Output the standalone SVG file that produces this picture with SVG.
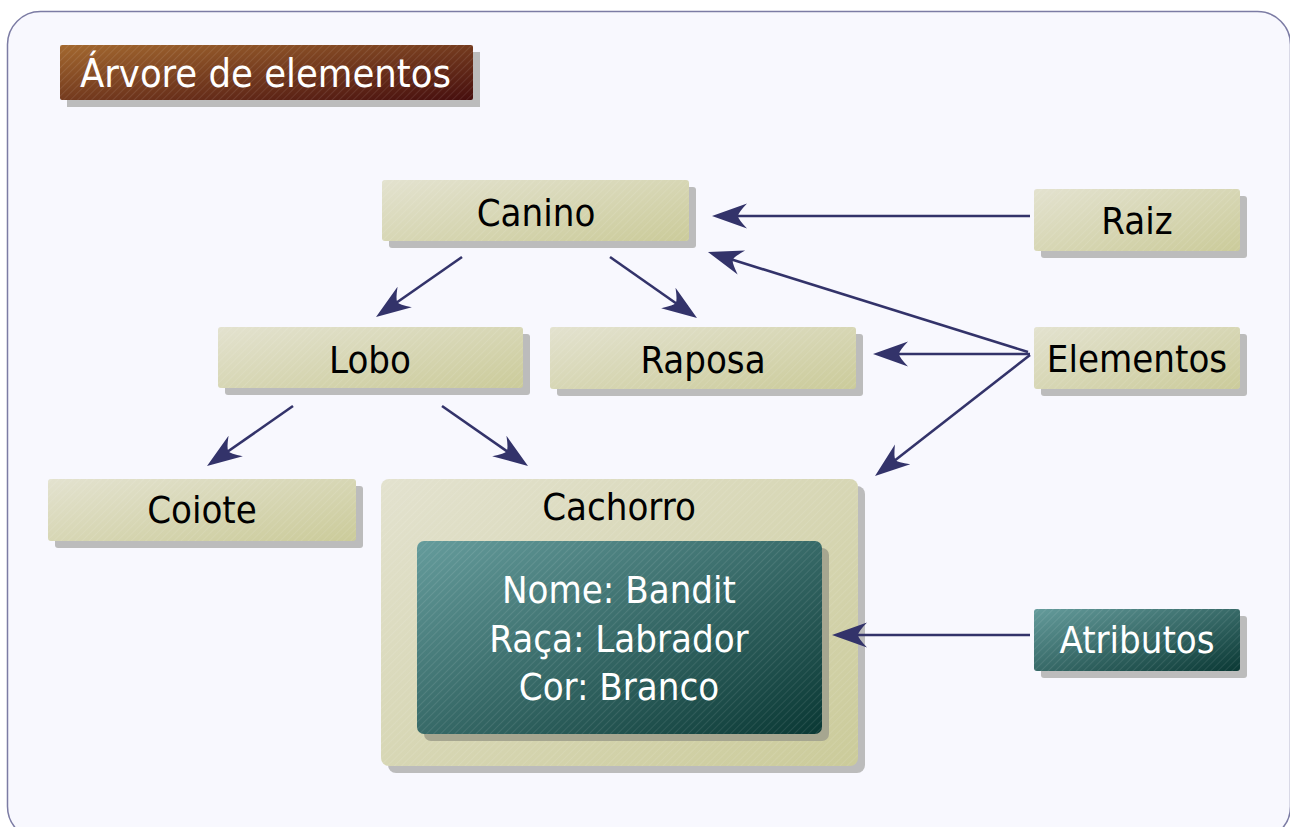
<svg xmlns="http://www.w3.org/2000/svg" width="1290" height="827" viewBox="0 0 1290 827">
<defs>
<linearGradient id="beige" x1="0" y1="0" x2="1" y2="1">
<stop offset="0" stop-color="#e3e2cf"/>
<stop offset="1" stop-color="#cbcb9a"/>
</linearGradient>
<linearGradient id="teal" x1="0" y1="0" x2="1" y2="1">
<stop offset="0" stop-color="#659c9c"/>
<stop offset="1" stop-color="#0a3834"/>
</linearGradient>
<linearGradient id="brown" x1="0" y1="0" x2="1" y2="1">
<stop offset="0" stop-color="#a3682f"/>
<stop offset="1" stop-color="#460e0e"/>
</linearGradient>
<pattern id="hatch" width="5" height="5" patternUnits="userSpaceOnUse" patternTransform="rotate(45)">
<line x1="0" y1="0" x2="0" y2="5" stroke="#ffffff" stroke-width="1" stroke-opacity="0.18"/>
</pattern>
<marker id="ah" viewBox="-30 -15 42 30" refX="0" refY="0" markerWidth="42" markerHeight="30" markerUnits="userSpaceOnUse" orient="auto">
<path d="M10,0 L-25,-12.5 Q-16,-3 -16,0 Q-16,3 -25,12.5 Z" fill="#33336a"/>
</marker>
</defs>
<style>
.shadow{fill:#bcbcbc}
.box{fill:url(#beige)}
.tbox{fill:url(#teal)}
.hatch{fill:url(#hatch)}
.lbl{font-family:"DejaVu Sans Condensed","DejaVu Sans",sans-serif;font-stretch:condensed;font-size:38px;text-anchor:middle;fill:#000}
.wlbl{font-family:"DejaVu Sans Condensed","DejaVu Sans",sans-serif;font-stretch:condensed;font-size:38px;text-anchor:middle;fill:#fff}
.conn{stroke:#33336a;stroke-width:2.6;fill:none;marker-end:url(#ah)}
</style>
<rect x="7.5" y="11.5" width="1283" height="828" rx="33" fill="#f8f8fe" stroke="#7c7ca4" stroke-width="1.5"/>

<g id="title">
<rect class="shadow" x="67" y="52" width="413" height="55"/>
<rect x="60" y="45" width="413" height="55" rx="2" fill="url(#brown)"/>
<rect class="hatch" x="60" y="45" width="413" height="55"/>
<text class="wlbl" x="265.5" y="87" style="font-size:39.5px">Árvore de elementos</text>
</g>

<g id="canino">
<rect class="shadow" x="389" y="187" width="307" height="61" rx="3"/>
<rect class="box" x="382" y="180" width="307" height="61" rx="3"/>
<rect class="hatch" x="382" y="180" width="307" height="61" rx="3"/>
<text class="lbl" x="536" y="226">Canino</text>
</g>

<g id="raiz">
<rect class="shadow" x="1041" y="196" width="206" height="62" rx="3"/>
<rect class="box" x="1034" y="189" width="206" height="62" rx="3"/>
<rect class="hatch" x="1034" y="189" width="206" height="62" rx="3"/>
<text class="lbl" x="1137" y="234">Raiz</text>
</g>

<g id="lobo">
<rect class="shadow" x="225" y="334" width="305" height="61" rx="3"/>
<rect class="box" x="218" y="327" width="305" height="61" rx="3"/>
<rect class="hatch" x="218" y="327" width="305" height="61" rx="3"/>
<text class="lbl" x="370" y="373">Lobo</text>
</g>

<g id="raposa">
<rect class="shadow" x="557" y="334" width="306" height="62" rx="3"/>
<rect class="box" x="550" y="327" width="306" height="62" rx="3"/>
<rect class="hatch" x="550" y="327" width="306" height="62" rx="3"/>
<text class="lbl" x="703" y="373">Raposa</text>
</g>

<g id="elementos">
<rect class="shadow" x="1041" y="334" width="206" height="62" rx="3"/>
<rect class="box" x="1034" y="327" width="206" height="62" rx="3"/>
<rect class="hatch" x="1034" y="327" width="206" height="62" rx="3"/>
<text class="lbl" x="1137" y="372">Elementos</text>
</g>

<g id="coiote">
<rect class="shadow" x="55" y="486" width="308" height="62" rx="3"/>
<rect class="box" x="48" y="479" width="308" height="62" rx="3"/>
<rect class="hatch" x="48" y="479" width="308" height="62" rx="3"/>
<text class="lbl" x="202" y="523">Coiote</text>
</g>

<g id="cachorro">
<rect class="shadow" x="388" y="486" width="477" height="287" rx="8"/>
<rect class="box" x="381" y="479" width="477" height="287" rx="8"/>
<rect class="hatch" x="381" y="479" width="477" height="287" rx="8"/>
<text class="lbl" x="619" y="520">Cachorro</text>
<g id="atributos-cachorro">
<rect x="424" y="548" width="405" height="193" rx="7" fill="#a6a690"/>
<rect class="tbox" x="417" y="541" width="405" height="193" rx="7"/>
<rect class="hatch" x="417" y="541" width="405" height="193" rx="7"/>
<text class="wlbl" x="619" y="603">Nome: Bandit</text>
<text class="wlbl" x="619" y="652">Raça: Labrador</text>
<text class="wlbl" x="619" y="700">Cor: Branco</text>
</g>
</g>

<g id="atributos">
<rect class="shadow" x="1041" y="616" width="206" height="62" rx="3"/>
<rect class="tbox" x="1034" y="609" width="206" height="62" rx="3"/>
<rect class="hatch" x="1034" y="609" width="206" height="62" rx="3"/>
<text class="wlbl" x="1137" y="653">Atributos</text>
</g>

<g id="connectors">
<path class="conn" d="M1030,216 L722,216"/>
<path class="conn" d="M1028,352 L717.5,255"/>
<path class="conn" d="M1030,354 L883,354"/>
<path class="conn" d="M1030,355 L882.9,469.8"/>
<path class="conn" d="M462,257 L384.2,311.3"/>
<path class="conn" d="M610,257 L688.8,312.3"/>
<path class="conn" d="M293,406 L215.2,460.3"/>
<path class="conn" d="M442,406 L519.8,460.3"/>
<path class="conn" d="M1030,635 L842,635"/>
</g>
</svg>
